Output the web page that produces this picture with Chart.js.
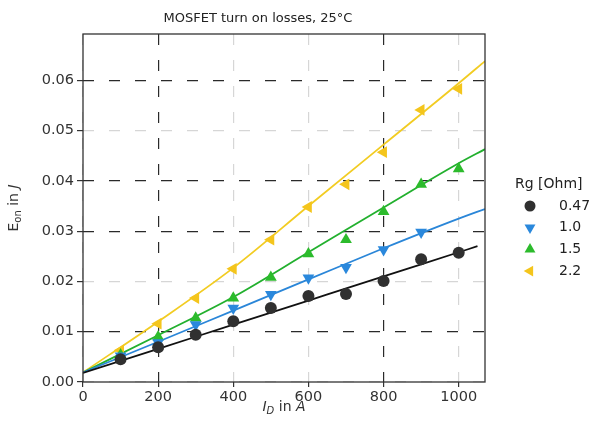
<!DOCTYPE html>
<html><head><meta charset="utf-8">
<script src="https://cdn.jsdelivr.net/npm/chart.js@4/dist/chart.umd.min.js"></script>
<style>html,body{margin:0;padding:0;background:#fff}#w{width:605px;height:426px}</style>
</head><body><div id="w"><canvas id="c" width="605" height="426"></canvas></div>
<script>
// ---- data ----
const currents = [100, 200, 300, 400, 500, 600, 700, 800, 900, 1000];
const rgLabels = ['0.47', '1.0', '1.5', '2.2'];
const eon047 = [0.0045, 0.0069, 0.0094, 0.0121, 0.0147, 0.0171, 0.0175, 0.0201, 0.0244, 0.0257];
const eon10  = [0.0052, 0.0078, 0.0114, 0.0147, 0.0174, 0.0207, 0.0228, 0.0263, 0.0298, null];
const eon15  = [0.0054, 0.0090, 0.0127, 0.0167, 0.0208, 0.0255, 0.0283, 0.0339, 0.0393, 0.0424];
const eon22  = [0.0063, 0.0116, 0.0167, 0.0225, 0.0283, 0.0348, 0.0393, 0.0457, 0.0541, 0.0583];
// fitted curves, read at a few currents
const fitX047 = [0, 200, 400, 600, 800, 1000, 1050];
const fit047  = [0.0018, 0.0066, 0.0114, 0.0162, 0.0210, 0.0258, 0.0270];
const fitX    = [0, 200, 400, 600, 800, 1000, 1070];
const fit10   = [0.0019, 0.0080, 0.0142, 0.0204, 0.0266, 0.0325, 0.0344];
const fit15   = [0.0019, 0.0093, 0.0169, 0.0258, 0.0347, 0.0435, 0.0463];
const fit22   = [0.0019, 0.0120, 0.0227, 0.0350, 0.0472, 0.0594, 0.0638];
const xTicks = [0, 200, 400, 600, 800, 1000];
const yTicks = [0.00, 0.01, 0.02, 0.03, 0.04, 0.05, 0.06];
const chartTitle = 'MOSFET turn on losses, 25°C';
const legendTitle = 'Rg [Ohm]';

const pts = (xs, ys) => xs.map((x, i) => ({x: x, y: ys[i]}));
const FONT = "'DejaVu Sans', Verdana, sans-serif";

const styles = [
  {color: '#303030', line: '#111111', shape: 'circle', rot: 0, r: 6},
  {color: '#2a88dc', line: '#2a86d8', shape: 'triangle', rot: 180, r: 6.8},
  {color: '#2cbb2c', line: '#22b02e', shape: 'triangle', rot: 0, r: 6.8},
  {color: '#f4c51c', line: '#f2cc22', shape: 'triangle', rot: 270, r: 6.8}
];
const series = [eon047, eon10, eon15, eon22];
const fits = [[fitX047, fit047], [fitX, fit10], [fitX, fit15], [fitX, fit22]];

const datasets = [];
fits.forEach((f, i) => datasets.push({
  type: 'line', data: pts(f[0], f[1]), borderColor: styles[i].line, borderWidth: 1.8,
  pointRadius: 0, cubicInterpolationMode: 'monotone', fill: false, order: 2
}));
series.forEach((s, i) => datasets.push({
  type: 'scatter', label: rgLabels[i], data: pts(currents, s).filter(p => p.y !== null),
  backgroundColor: styles[i].color, borderColor: styles[i].color, borderWidth: 0,
  pointStyle: styles[i].shape, rotation: styles[i].rot, pointRadius: styles[i].r, order: 1
}));

function marker(ctx, st, x, y) {
  ctx.save();
  ctx.fillStyle = st.color;
  ctx.beginPath();
  if (st.shape === 'circle') {
    ctx.arc(x, y, st.r - 0.5, 0, Math.PI * 2);
  } else {
    const r = st.r - 0.5, a = st.rot * Math.PI / 180;
    for (let k = 0; k < 3; k++) {
      const t = a + k * 2 * Math.PI / 3;
      const px = x + Math.sin(t) * r, py = y - Math.cos(t) * r;
      if (k === 0) ctx.moveTo(px, py); else ctx.lineTo(px, py);
    }
    ctx.closePath();
  }
  ctx.fill();
  ctx.restore();
}

function drawRich(ctx, parts, cx, cy) {
  let w = 0;
  parts.forEach(p => { ctx.font = (p[2] ? 'italic ' : '') + p[1] + 'px ' + FONT; w += ctx.measureText(p[0]).width; });
  let x = cx - w / 2;
  ctx.textAlign = 'left'; ctx.textBaseline = 'middle';
  parts.forEach(p => {
    ctx.font = (p[2] ? 'italic ' : '') + p[1] + 'px ' + FONT;
    ctx.fillText(p[0], x, cy + p[3]);
    x += ctx.measureText(p[0]).width;
  });
}

const decor = {
  id: 'decor',
  afterDraw(chart) {
    const ctx = chart.ctx, a = chart.chartArea;
    ctx.save();
    ctx.strokeStyle = '#333'; ctx.lineWidth = 1.3;
    ctx.strokeRect(a.left, a.top, a.right - a.left, a.bottom - a.top);
    ctx.fillStyle = '#222';
    ctx.font = '13px ' + FONT; ctx.textAlign = 'center'; ctx.textBaseline = 'middle';
    ctx.fillText(chartTitle, (a.left + a.right) / 2 - 26, 19);
    ctx.fillStyle = '#333';
    drawRich(ctx, [['I', 14, true, 0], ['D', 10, true, 4], [' in ', 14, false, 0], ['A', 14, true, 0]], (a.left + a.right) / 2, 407);
    ctx.save();
    ctx.translate(14, (a.top + a.bottom) / 2);
    ctx.rotate(-Math.PI / 2);
    drawRich(ctx, [['E', 14, false, 0], ['on', 10, false, 4], [' in ', 14, false, 0], ['J', 14, true, 0]], 0, 0);
    ctx.restore();
    const lx = a.right + 30;
    ctx.fillStyle = '#222';
    ctx.font = '14px ' + FONT; ctx.textAlign = 'left'; ctx.textBaseline = 'middle';
    ctx.fillText(legendTitle, lx, 184);
    rgLabels.forEach((lab, i) => {
      const y = 206 + i * 21.7;
      marker(ctx, styles[i], lx + 15, y);
      ctx.fillStyle = '#222';
      ctx.font = '14px ' + FONT;
      ctx.fillText(lab, lx + 44, y);
    });
    ctx.restore();
  }
};

const darkX = [200, 800];
const darkY = [0.01, 0.03, 0.04, 0.06];

new Chart(document.getElementById('c'), {
  data: {datasets: datasets},
  options: {
    responsive: false, animation: false, devicePixelRatio: 1,
    layout: {padding: {left: 0, right: 120, top: 34, bottom: 0}},
    plugins: {legend: {display: false}, title: {display: false}, tooltip: {enabled: false}},
    scales: {
      x: {
        type: 'linear', min: 0, max: 1070,
        afterFit: s => { s.height = 44; },
        afterBuildTicks: s => { s.ticks = xTicks.map(v => ({value: v})); },
        ticks: {font: {family: FONT, size: 14.5}, color: '#333', padding: 2, maxRotation: 0,
                callback: v => String(v)},
        grid: {
          color: c => darkX.includes(c.tick && c.tick.value) ? '#2a2a2a' : '#d6d6d6',
          lineWidth: 1.2, tickLength: 5, tickColor: '#333'
        },
        border: {display: false, dash: [11, 15]}
      },
      y: {
        type: 'linear', min: 0, max: 0.0692,
        afterFit: s => { s.width = 83; },
        afterBuildTicks: s => { s.ticks = yTicks.map(v => ({value: v})); },
        ticks: {font: {family: FONT, size: 14.5}, color: '#333', padding: 3,
                callback: v => Number(v).toFixed(2)},
        grid: {
          color: c => (c.tick && darkY.some(d => Math.abs(d - c.tick.value) < 1e-9)) ? '#2a2a2a' : '#d6d6d6',
          lineWidth: 1.2, tickLength: 6, tickColor: '#333'
        },
        border: {display: false, dash: [11, 15]}
      }
    }
  },
  plugins: [decor]
});
</script>
</body></html>
